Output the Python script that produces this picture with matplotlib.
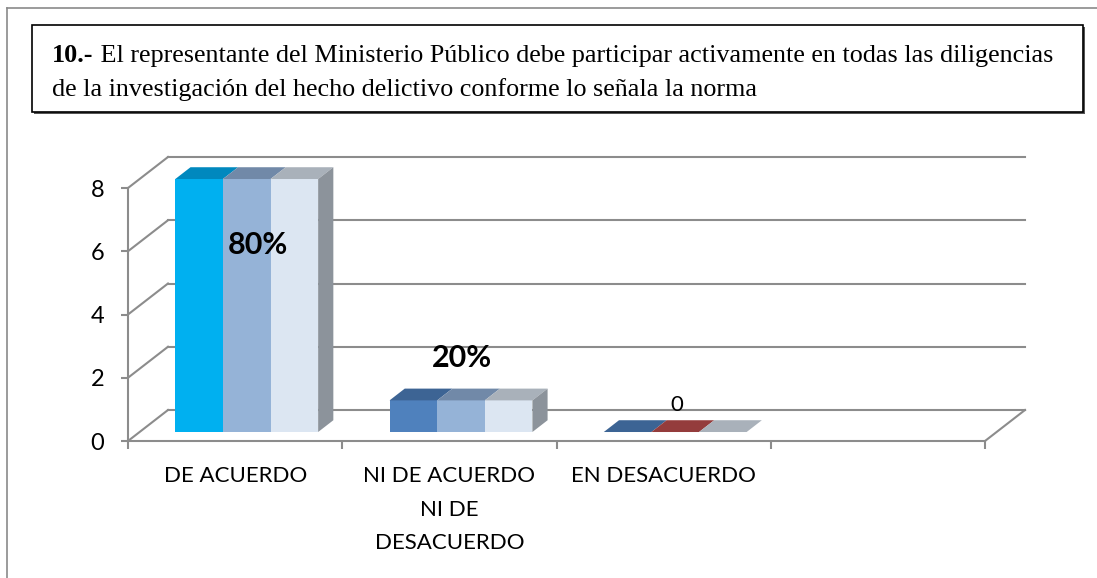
import matplotlib
matplotlib.use('Agg')
import matplotlib.pyplot as plt
from matplotlib.patches import Polygon, Rectangle
from matplotlib.lines import Line2D

# Data
categories = ['DE ACUERDO', 'NI DE ACUERDO\nNI DE\nDESACUERDO', 'EN DESACUERDO', '']
series_values = [
    [8, 1, 0],   # series 1
    [8, 1, 0],   # series 2
    [8, 1, 0],   # series 3
]
value_labels = ['80%', '20%', '0']
y_ticks = [0, 2, 4, 6, 8]

# colours per point (front face, top face)
front_colors = [['#00B0F0', '#4F81BD', '#4F81BD'],
                ['#95B3D7', '#95B3D7', '#C0504D'],
                ['#DCE6F2', '#DCE6F2', '#DCE6F2']]
top_colors = [['#0088BE', '#3D6494', '#3C6494'],
              ['#7189A8', '#7189A8', '#943C3C'],
              ['#A9B1BA', '#A9B1BA', '#A9B1BA']]
side_color = '#8C939B'
grid_color = '#8C8C8C'

title_bold = '10.-'
title_rest = ' El representante del Ministerio Público debe participar activamente en todas las diligencias'
title_line2 = 'de la investigación del hecho delictivo conforme lo señala la norma'

W, H = 1097, 578
fig = plt.figure(figsize=(W / 100, H / 100), dpi=100)


def fx(px):
    return px / W


def fy(py):
    return 1 - py / H


# outer frame (top and left edges only)
fig.add_artist(Line2D([fx(7), 1], [fy(8), fy(8)], color='#8A8A8A', lw=1.2))
fig.add_artist(Line2D([fx(7), fx(7)], [fy(8), 0], color='#8A8A8A', lw=1.2))

# title box with a small shadow
fig.add_artist(Rectangle((fx(34), fy(114)), (1083 - 32) / W, (112 - 25) / H,
                         transform=fig.transFigure, facecolor='#555555', edgecolor='none'))
fig.add_artist(Rectangle((fx(32), fy(112)), (1083 - 32) / W, (112 - 25) / H,
                         transform=fig.transFigure, facecolor='white', edgecolor='black', lw=1.2))

serif = 'Liberation Serif'
t1 = fig.text(fx(52), fy(56), title_bold, family=serif, weight='bold', fontsize=18.8, va='center')
fig.canvas.draw()
r = fig.canvas.get_renderer()
bb = t1.get_window_extent(renderer=r)
fig.text(bb.x1 / W, fy(56), title_rest, family=serif, fontsize=18.8, va='center')
fig.text(fx(52), fy(90), title_line2, family=serif, fontsize=18.8, va='center')

# chart axes = front plane
ax = fig.add_axes([fx(128), fy(441), (985 - 128) / W, (441 - 188) / H])
n_cat = len(categories)
ax.set_xlim(0, n_cat)
ax.set_ylim(0, 8)

DX = 40 / ((985 - 128) / n_cat)   # depth offset in category units
DY = 31 / ((441 - 188) / 8)       # depth offset in value units

sans = 'Lato'
for s in ['top', 'right']:
    ax.spines[s].set_visible(False)
for s in ['left', 'bottom']:
    ax.spines[s].set_color(grid_color)
    ax.spines[s].set_linewidth(1.5)
ax.set_facecolor('none')
ax.set_yticks(y_ticks)
ax.set_yticklabels([str(v) for v in y_ticks], family=sans, fontsize=17)
ax.tick_params(axis='y', direction='out', length=5, width=1.5, color=grid_color, pad=12)
ax.set_xticks(range(n_cat + 1))
ax.set_xticklabels([''] * (n_cat + 1))
ax.tick_params(axis='x', which='major', direction='out', length=6, width=1.5, color=grid_color)
ax.set_xticks([i + 0.5 for i in range(n_cat)], minor=True)
ax.set_xticklabels(categories, minor=True, family=sans, fontsize=16, linespacing=1.85, va='top')
ax.tick_params(axis='x', which='minor', length=0, pad=18)

# back wall gridlines and side-wall diagonals
for v in y_ticks:
    ax.plot([DX, n_cat + DX], [v + DY, v + DY], color=grid_color, lw=1.5, clip_on=False)
    ax.plot([0, DX], [v, v + DY], color=grid_color, lw=1.5, clip_on=False)
ax.plot([n_cat, n_cat + DX], [0, DY], color=grid_color, lw=1.5, clip_on=False)

# bars
group_w = 2 / 3
bar_w = group_w / len(series_values)
f0, f1 = 0.29, 0.67
for j, vals in enumerate(series_values):
    for i, v in enumerate(vals):
        x0 = i + 0.5 - group_w / 2 + j * bar_w + f0 * DX
        y0 = f0 * DY
        ddx, ddy = (f1 - f0) * DX, (f1 - f0) * DY
        if v > 0:
            ax.add_patch(Rectangle((x0, y0), bar_w, v, facecolor=front_colors[j][i],
                                   edgecolor='none', clip_on=False, zorder=3))
        ax.add_patch(Polygon([(x0, y0 + v), (x0 + bar_w, y0 + v),
                              (x0 + bar_w + ddx, y0 + v + ddy), (x0 + ddx, y0 + v + ddy)],
                             facecolor=top_colors[j][i], edgecolor='none', clip_on=False, zorder=3))
        if j == len(series_values) - 1 and v > 0:
            xr = x0 + bar_w
            ax.add_patch(Polygon([(xr, y0), (xr + ddx, y0 + ddy),
                                  (xr + ddx, y0 + v + ddy), (xr, y0 + v)],
                                 facecolor=side_color, edgecolor='none', clip_on=False, zorder=3))

# data labels
label_pos = [(0.607, 6.2), (1.559, 2.62), (2.56, 1.14)]
label_bold = [True, True, False]
for txt, (lx, ly), b in zip(value_labels, label_pos, label_bold):
    ax.text(lx, ly, txt, ha='center', va='center', family=sans,
            fontsize=22 if b else 16, weight='bold' if b else 'normal', zorder=5)

fig.savefig('out.png', dpi=100)
